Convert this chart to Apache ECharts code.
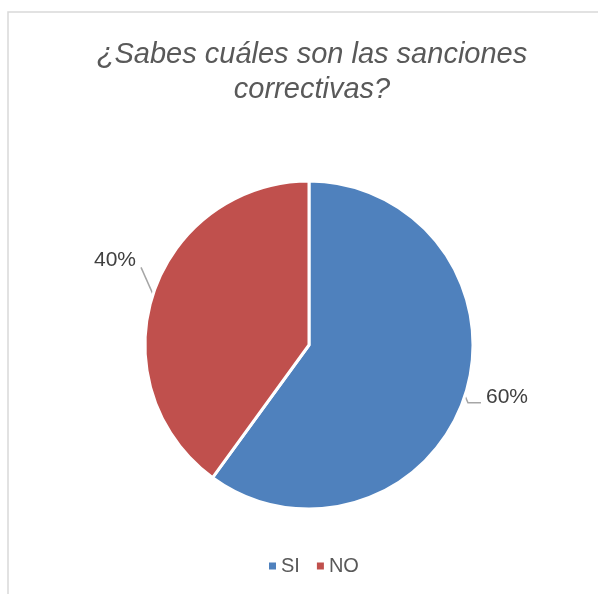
<!DOCTYPE html>
<html>
<head>
<meta charset="utf-8">
<script src="https://cdn.jsdelivr.net/npm/echarts@6/dist/echarts.min.js"></script>
<style>
html,body{margin:0;padding:0;background:#fff;}
#chart{width:598px;height:594px;}
</style>
</head>
<body>
<div id="chart"></div>
<script>
var titleText = '¿Sabes cuáles son las sanciones\ncorrectivas?';
var categories = ['SI', 'NO'];
var values = [60, 40];
var colors = ['#4F81BD', '#C0504D'];

var chart = echarts.init(document.getElementById('chart'), null, {renderer: 'canvas'});
chart.setOption({
  backgroundColor: '#ffffff',
  animation: false,
  graphic: [
    {type: 'rect', shape: {x: 8, y: 12, width: 620, height: 620}, style: {fill: 'none', stroke: '#d9d9d9', lineWidth: 1.5}, silent: true}
  ],
  title: {
    text: titleText,
    left: 307,
    textAlign: 'center',
    top: 32,
    textStyle: {
      fontFamily: 'Liberation Sans',
      fontStyle: 'italic',
      fontWeight: 'normal',
      fontSize: 29,
      lineHeight: 35,
      color: '#595959'
    }
  },
  legend: {
    data: categories,
    left: 262,
    top: 551,
    icon: 'rect',
    itemWidth: 9,
    itemHeight: 9,
    itemGap: 15,
    textStyle: {fontFamily: 'Liberation Sans', fontSize: 20, color: '#595959', padding: [0, 0, 0, -1]}
  },
  series: [{
    type: 'pie',
    center: [309, 345],
    radius: [0, 164],
    startAngle: 90,
    clockwise: true,
    data: categories.map(function (c, i) {
      return {name: c, value: values[i], itemStyle: {color: colors[i]}};
    }),
    itemStyle: {borderColor: '#ffffff', borderWidth: 3},
    label: {
      show: true,
      position: 'outside',
      formatter: '{d}%',
      fontFamily: 'Liberation Sans',
      fontSize: 21,
      color: '#404040'
    },
    labelLine: {
      show: true,
      length: 8,
      length2: 12,
      lineStyle: {color: '#a6a6a6', width: 1.5}
    },
    labelLayout: function (p) {
      var pts = p.labelLinePoints;
      if (!pts) return {};
      var a = pts[0];
      if (p.dataIndex === 0) {
        return {
          x: a[0] + 21, y: a[1] + 2, align: 'left', verticalAlign: 'middle',
          labelLinePoints: [[a[0], a[1]], [a[0] + 3, a[1] + 7], [a[0] + 16, a[1] + 7]]
        };
      }
      return {
        x: a[0] - 38, y: a[1] - 34, align: 'center', verticalAlign: 'middle',
        labelLinePoints: [[a[0], a[1]], [a[0] - 12, a[1] - 27], [a[0] - 12, a[1] - 27]]
      };
    },
    emphasis: {disabled: true}
  }]
});
</script>
</body>
</html>
